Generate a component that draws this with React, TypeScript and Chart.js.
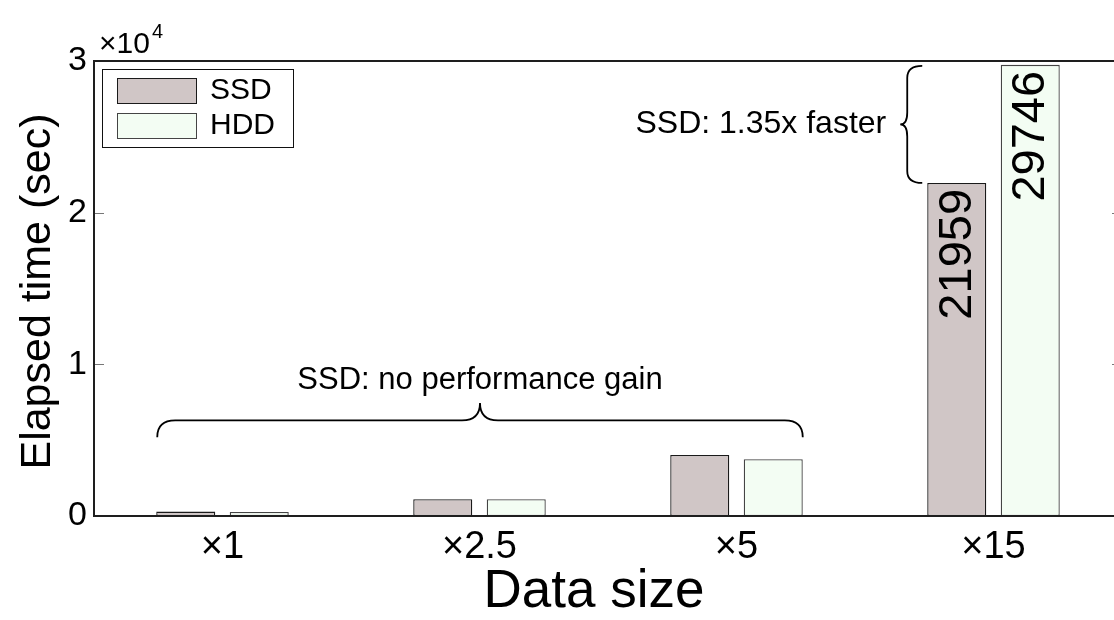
import React, { useEffect, useRef } from "react";
import { Chart, registerables } from "chart.js";

Chart.register(...registerables);

const categories = ["×1", "×2.5", "×5", "×15"];
const ssdValues = [290, 1100, 4020, 21959];
const hddValues = [270, 1100, 3740, 29746];
const seriesNames = ["SSD", "HDD"];
const yTicks = [0, 10000, 20000, 30000];
const labeledCategory = 3;
const noteLeft = "SSD: no performance gain";
const noteRight = "SSD: 1.35x faster";

const FONT = '"Liberation Sans", Arial, Helvetica, sans-serif';
const SSD_FILL = "#d0c6c6";
const HDD_FILL = "#f3fdf3";
const SSD_EDGE = "#1a1a1a";
const HDD_EDGE = "#444444";

const decorPlugin = {
  id: "decor",
  afterDraw(chart: any) {
    const ctx = chart.ctx as CanvasRenderingContext2D;
    const a = chart.chartArea;
    const ys = chart.scales.y;
    ctx.save();

    // inward ticks
    ctx.strokeStyle = "#777";
    ctx.lineWidth = 1;
    yTicks.forEach((v) => {
      const py = Math.round(ys.getPixelForValue(v)) + 0.5;
      ctx.beginPath();
      ctx.moveTo(a.left, py);
      ctx.lineTo(a.left + 10, py);
      ctx.moveTo(a.right, py);
      ctx.lineTo(a.right - 10, py);
      ctx.stroke();
    });

    // axes box
    ctx.strokeStyle = "#1e1e1e";
    ctx.lineWidth = 2;
    ctx.strokeRect(a.left, a.top, a.right - a.left, a.bottom - a.top);

    // exponent
    ctx.fillStyle = "#000";
    ctx.textBaseline = "alphabetic";
    ctx.textAlign = "left";
    ctx.font = `30px ${FONT}`;
    ctx.fillText("×10", a.left + 5, a.top - 8);
    const w10 = ctx.measureText("×10").width;
    ctx.font = `20px ${FONT}`;
    ctx.fillText("4", a.left + 7 + w10, a.top - 23);

    // bar value labels
    const metas = [chart.getDatasetMeta(0), chart.getDatasetMeta(1)];
    const vals = [ssdValues, hddValues];
    ctx.font = `47px ${FONT}`;
    metas.forEach((m: any, di: number) => {
      const bar = m.data[labeledCategory];
      ctx.save();
      ctx.translate(bar.x, bar.y);
      ctx.rotate(-Math.PI / 2);
      ctx.textAlign = "right";
      ctx.textBaseline = "middle";
      ctx.fillStyle = "#000";
      ctx.fillText(String(vals[di][labeledCategory]), -6, 1);
      ctx.restore();
    });

    // horizontal brace across first three groups
    const b0 = metas[0].data[0];
    const b2 = metas[1].data[2];
    const x1 = b0.x - b0.width / 2 + 1;
    const x2 = b2.x + b2.width / 2;
    const xm = (x1 + x2) / 2;
    const yEnd = ys.getPixelForValue(5200);
    const ySp = ys.getPixelForValue(6300);
    const yTip = ys.getPixelForValue(7450);
    const r = 18;
    ctx.strokeStyle = "#000";
    ctx.lineWidth = 1.8;
    ctx.beginPath();
    ctx.moveTo(x1, yEnd);
    ctx.quadraticCurveTo(x1, ySp, x1 + r, ySp);
    ctx.lineTo(xm - r, ySp);
    ctx.quadraticCurveTo(xm, ySp, xm, yTip);
    ctx.quadraticCurveTo(xm, ySp, xm + r, ySp);
    ctx.lineTo(x2 - r, ySp);
    ctx.quadraticCurveTo(x2, ySp, x2, yEnd);
    ctx.stroke();

    ctx.font = `31px ${FONT}`;
    ctx.textAlign = "center";
    ctx.textBaseline = "middle";
    ctx.fillStyle = "#000";
    ctx.fillText(noteLeft, xm, ys.getPixelForValue(8950));

    // vertical brace between the x15 bar tops
    const bs = metas[0].data[labeledCategory];
    const bh = metas[1].data[labeledCategory];
    const xe = bs.x - bs.width / 2 - 5;
    const xsp = xe - 15;
    const xt = xsp - 7;
    const yTop = bh.y + 1;
    const yBot = bs.y;
    const ym = (yTop + yBot) / 2;
    const rv = 12;
    ctx.beginPath();
    ctx.moveTo(xe, yTop);
    ctx.quadraticCurveTo(xsp, yTop, xsp, yTop + rv);
    ctx.lineTo(xsp, ym - rv);
    ctx.quadraticCurveTo(xsp, ym, xt, ym);
    ctx.quadraticCurveTo(xsp, ym, xsp, ym + rv);
    ctx.lineTo(xsp, yBot - rv);
    ctx.quadraticCurveTo(xsp, yBot, xe, yBot);
    ctx.stroke();

    ctx.font = `32px ${FONT}`;
    ctx.textAlign = "right";
    ctx.fillText(noteRight, xt - 14, ym);

    // legend
    const lx = a.left + 8;
    const ly = a.top + 8;
    ctx.fillStyle = "#fff";
    ctx.fillRect(lx, ly, 191, 78);
    ctx.strokeStyle = "#111";
    ctx.lineWidth = 1;
    ctx.strokeRect(lx + 0.5, ly + 0.5, 191, 78);
    const fills = [SSD_FILL, HDD_FILL];
    const edges = [SSD_EDGE, HDD_EDGE];
    ctx.font = `30px ${FONT}`;
    ctx.textAlign = "left";
    seriesNames.forEach((n, i) => {
      const sy = ly + 9 + i * 35;
      ctx.fillStyle = fills[i];
      ctx.fillRect(lx + 15, sy, 79, 25);
      ctx.strokeStyle = edges[i];
      ctx.strokeRect(lx + 15.5, sy + 0.5, 79, 25);
      ctx.fillStyle = "#000";
      ctx.fillText(n, lx + 108, sy + 13);
    });

    // axis titles
    ctx.fillStyle = "#000";
    ctx.textAlign = "center";
    ctx.textBaseline = "middle";
    ctx.font = `53px ${FONT}`;
    ctx.fillText("Data size", 594, 592);
    ctx.save();
    ctx.translate(38, (a.top + a.bottom) / 2 + 3);
    ctx.rotate(-Math.PI / 2);
    ctx.font = `43px ${FONT}`;
    ctx.fillText("Elapsed time (sec)", 0, 0);
    ctx.restore();

    ctx.restore();
  },
};

export default function App() {
  const ref = useRef<HTMLCanvasElement | null>(null);
  useEffect(() => {
    if (!ref.current) return;
    const chart = new Chart(ref.current, {
      type: "bar",
      data: {
        labels: categories,
        datasets: [
          {
            label: seriesNames[0],
            data: ssdValues,
            backgroundColor: SSD_FILL,
            borderColor: SSD_EDGE,
            borderWidth: 1.3,
            borderSkipped: false,
            categoryPercentage: 0.572,
            barPercentage: 0.803,
          },
          {
            label: seriesNames[1],
            data: hddValues,
            backgroundColor: HDD_FILL,
            borderColor: HDD_EDGE,
            borderWidth: 1.3,
            borderSkipped: false,
            categoryPercentage: 0.572,
            barPercentage: 0.803,
          },
        ],
      },
      options: {
        animation: false,
        responsive: true,
        maintainAspectRatio: false,
        devicePixelRatio: 1,
        layout: { padding: { left: 0, top: 61, right: 8, bottom: 0 } },
        plugins: { legend: { display: false }, tooltip: { enabled: false }, title: { display: false } },
        scales: {
          x: {
            type: "category",
            offset: true,
            grid: { display: false, drawTicks: false },
            border: { display: false },
            ticks: { color: "#000", font: { family: FONT, size: 38 }, padding: 9, maxRotation: 0 },
            afterFit: (s: any) => {
              s.height = 104;
            },
          },
          y: {
            min: 0,
            max: 30000,
            grid: { display: false, drawTicks: false },
            border: { display: false },
            ticks: {
              stepSize: 10000,
              color: "#000",
              font: { family: FONT, size: 34 },
              padding: 7,
              callback: (v: any) => String(Number(v) / 10000),
            },
            afterFit: (s: any) => {
              s.width = 94;
            },
          },
        },
      },
      plugins: [decorPlugin],
    });
    return () => chart.destroy();
  }, []);

  return (
    <div style={{ position: "fixed", left: 0, top: 0, width: 1114, height: 620, overflow: "hidden", background: "#fff" }}>
      <div style={{ position: "relative", width: 1130, height: 620 }}>
        <canvas ref={ref} />
      </div>
    </div>
  );
}
